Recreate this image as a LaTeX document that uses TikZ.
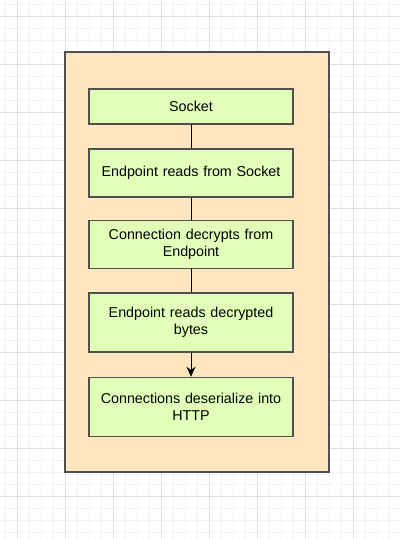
\documentclass[tikz,border=0pt]{standalone}
\usepackage{fontspec}
\setmainfont{Liberation Sans}
\usetikzlibrary{arrows.meta}
\definecolor{gridminor}{RGB}{242,242,242}
\definecolor{gridmajor}{RGB}{224,224,224}
\definecolor{orfill}{RGB}{255,230,191}
\definecolor{grfill}{RGB}{225,255,185}
\definecolor{strk}{RGB}{80,80,80}
\tikzset{
  stepbox/.style={draw=strk, fill=grfill, line width=1.6pt, minimum width=204pt, inner sep=0pt,
    align=center, text width=196pt, font=\fontsize{14.3}{17}\selectfont, text=black},
  conn/.style={draw=black, line width=1pt},
}
\begin{document}
\begin{tikzpicture}[x=1pt,y=-1pt]
\useasboundingbox (0,0) rectangle (400,539);
\fill[white] (0,0) rectangle (400,539);
\foreach \i in {0,...,34} {
  \draw[gridminor, line width=1pt] ({5+12*\i},0) -- ({5+12*\i},539);
}
\foreach \i in {0,...,45} {
  \draw[gridminor, line width=1pt] (0,{4.5+12*\i}) -- (400,{4.5+12*\i});
}
\foreach \i in {0,...,8} {
  \draw[gridmajor, line width=1pt] ({17+48*\i},0) -- ({17+48*\i},539);
}
\foreach \i in {0,...,11} {
  \draw[gridmajor, line width=1pt] (0,{16.5+48*\i}) -- (400,{16.5+48*\i});
}
\draw[draw=strk, fill=orfill, line width=1.6pt] (65,52) rectangle (329,472);
\node[stepbox, minimum height=35pt] (s1) at (191,106.5) {Socket};
\node[stepbox, minimum height=48pt] (s2) at (191,173) {Endpoint reads from Socket};
\node[stepbox, minimum height=48pt] (s3) at (191,244.5) {Connection decrypts from\\Endpoint};
\node[stepbox, minimum height=59pt] (s4) at (191,322.5) {Endpoint reads decrypted\\bytes};
\node[stepbox, minimum height=59pt] (s5) at (191,407) {Connections deserialize into\\HTTP};
\draw[conn] (s1) -- (s2);
\draw[conn] (s2) -- (s3);
\draw[conn] (s3) -- (s4);
\draw[conn, -{Stealth[length=10pt,width=9pt]}] (s4) -- (s5);
\end{tikzpicture}
\end{document}
